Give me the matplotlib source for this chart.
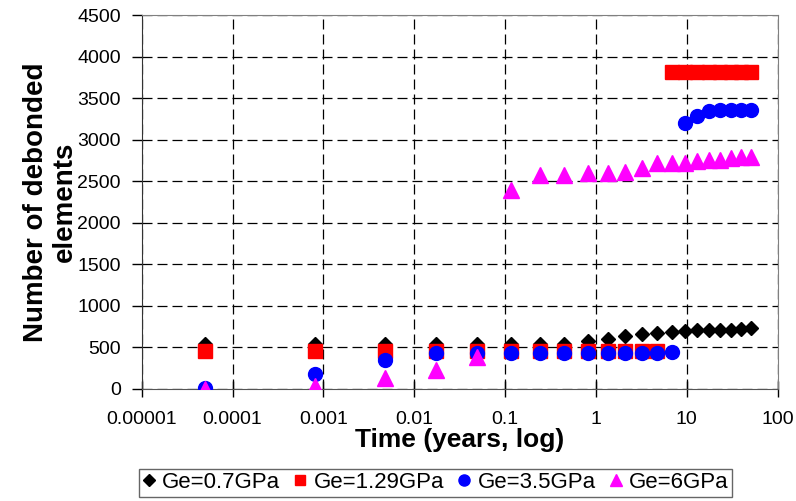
import numpy as np
import matplotlib.pyplot as plt
from matplotlib.ticker import FixedLocator, FixedFormatter

plt.rcParams['font.family'] = ['Liberation Sans', 'DejaVu Sans']

# time points (years)
t = [5e-5, 8.1e-4, 0.0048, 0.0174, 0.049, 0.116, 0.243, 0.45, 0.82, 1.35,
     2.1, 3.2, 4.75, 6.9, 9.5, 13, 17.7, 23.4, 30.4, 39.5, 51]

ge07 = [540, 540, 540, 540, 540, 540, 540, 545, 575, 605,
        640, 660, 670, 690, 700, 705, 705, 710, 715, 720, 730]
ge129 = [455, 455, 455, 455, 455, 455, 455, 455, 455, 455,
         455, 455, 455, 3820, 3820, 3820, 3820, 3820, 3820, 3820, 3820]
ge35 = [10, 180, 350, 430, 430, 430, 430, 430, 430, 430,
        430, 430, 430, 440, 3200, 3290, 3350, 3355, 3355, 3355, 3355]
ge6 = [0, 30, 130, 230, 380, 2390, 2570, 2570, 2595, 2595,
       2610, 2665, 2715, 2715, 2725, 2745, 2750, 2755, 2775, 2795, 2795]

labels = ['Ge=0.7GPa', 'Ge=1.29GPa', 'Ge=3.5GPa', 'Ge=6GPa']
xticks = [1e-5, 1e-4, 1e-3, 1e-2, 1e-1, 1, 10, 100]
xticklabels = ['0.00001', '0.0001', '0.001', '0.01', '0.1', '1', '10', '100']

fig = plt.figure(figsize=(7.96, 5.01), dpi=100)
ax = fig.add_axes([0.178, 0.2236, 0.799, 0.7464])

ax.plot(t, ge07, 'D', color='black', ms=7.5, label=labels[0], zorder=3)
ax.plot(t, ge129, 's', color='#ff0000', ms=9.5, label=labels[1], zorder=4)
ax.plot(t, ge35, 'o', color='#0000ff', ms=10, label=labels[2], zorder=5)
ax.plot(t, ge6, '^', color='#ff00ff', ms=11, label=labels[3], zorder=6)

ax.set_xscale('log')
ax.set_xlim(1e-5, 100)
ax.set_ylim(0, 4500)
ax.xaxis.set_major_locator(FixedLocator(xticks))
ax.xaxis.set_major_formatter(FixedFormatter(xticklabels))
ax.xaxis.set_minor_locator(FixedLocator([]))
ax.set_yticks(np.arange(0, 4501, 500))

ax.grid(True, color='black', linestyle=(0, (8, 4)), linewidth=0.9)
ax.set_axisbelow(True)
for s in ['top', 'right']:
    ax.spines[s].set_color('#808080')
ax.spines['left'].set_color('#333333')
ax.spines['bottom'].set_color('#555555')
ax.tick_params(axis='y', direction='out', length=7, pad=8, labelsize=14, width=1)
ax.tick_params(axis='x', direction='inout', length=12, pad=10, labelsize=14, width=1)

ax.set_xlabel('Time (years, log)', fontsize=19, fontweight='bold')
ax.xaxis.set_label_coords(0.5, -0.105)
ax.set_ylabel('Number of debonded\nelements', fontsize=20, fontweight='bold',
              linespacing=1.15)
ax.yaxis.set_label_coords(-0.1, 0.5)

leg = fig.legend(loc='upper center', bbox_to_anchor=(0.547, 0.064), ncol=4, fontsize=16,
                 frameon=True, fancybox=False, edgecolor='#404040', handlelength=0.6,
                 handletextpad=0.3, columnspacing=0.6, borderpad=0.15, markerscale=0.8,
                 borderaxespad=0)
leg.get_frame().set_linewidth(1)

fig.savefig('out.png', dpi=100)
